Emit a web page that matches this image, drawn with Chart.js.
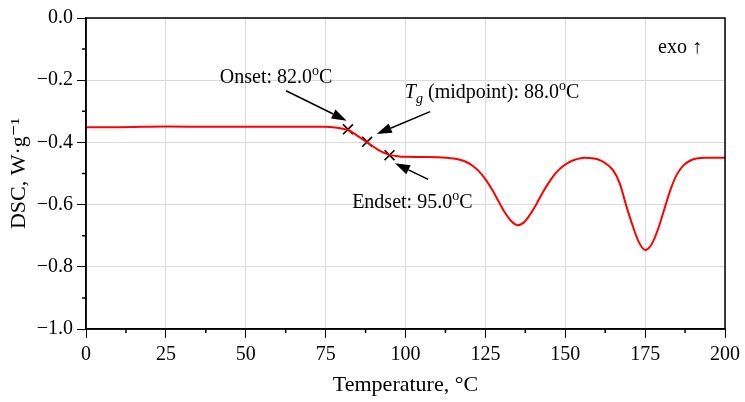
<!DOCTYPE html>
<html>
<head>
<meta charset="utf-8">
<script src="https://cdn.jsdelivr.net/npm/chart.js@4"></script>
<style>
html, body { margin: 0; padding: 0; background: #fff; }
</style>
</head>
<body>
<canvas id="myChart" width="745" height="402"></canvas>
<script>
// DSC curve
const temps = [0, 10, 25, 40, 55, 70, 75, 78, 80, 82, 84, 86, 88, 90, 92, 95, 98, 100, 105, 110,
    115, 117, 119, 121, 123, 125, 127, 129, 131, 133, 135, 137, 139, 141, 143, 145, 147, 149, 151, 153,
    156, 159, 161, 163, 165, 167, 169, 171, 173, 175, 177, 179, 181, 183, 185, 187, 189, 191, 194, 200];
const dsc = [-0.351, -0.351, -0.349, -0.350, -0.350, -0.350, -0.350, -0.352, -0.355, -0.360, -0.372, -0.386,
    -0.400, -0.414, -0.427, -0.440, -0.445, -0.446, -0.447, -0.448,
    -0.452, -0.456, -0.463, -0.475, -0.493, -0.518, -0.550, -0.587, -0.624, -0.652, -0.666, -0.658, -0.632,
    -0.598, -0.560, -0.527, -0.499, -0.479, -0.465, -0.456,
    -0.449, -0.452, -0.458, -0.470, -0.490, -0.530, -0.600, -0.665, -0.720, -0.746, -0.728, -0.680, -0.615,
    -0.550, -0.502, -0.474, -0.459, -0.452, -0.449, -0.449];

// onset / midpoint / endset markers
const markTemps = [82.0, 88.0, 95.0];
const markDsc = [-0.358, -0.398, -0.441];

const minorX = [12.5, 37.5, 62.5, 87.5, 112.5, 137.5, 162.5, 187.5];
const minorY = [-0.1, -0.3, -0.5, -0.7, -0.9];

const FONT = "'Liberation Serif', 'DejaVu Serif', serif";

// labels: segments of rich text, anchor in data units
const labels = [
    { x: 41.9, y: -0.209, parts: [{ t: 'Onset: 82.0' }, { t: 'o', sup: true }, { t: 'C' }] },
    { x: 99.8, y: -0.257, parts: [{ t: 'T', it: true }, { t: 'g', it: true, sub: true }, { t: ' (midpoint): 88.0' }, { t: 'o', sup: true }, { t: 'C' }] },
    { x: 83.3, y: -0.611, parts: [{ t: 'Endset: 95.0' }, { t: 'o', sup: true }, { t: 'C' }] }
];
const arrows = [
    { x1: 62.6, y1: -0.234, x2: 81.6, y2: -0.330 },
    { x1: 107.7, y1: -0.301, x2: 91.0, y2: -0.373 },
    { x1: 107.1, y1: -0.519, x2: 96.7, y2: -0.467 }
];

const drawRich = (c, parts, x, y) => {
    let cx = x;
    parts.forEach(p => {
        const size = (p.sup || p.sub) ? 14 : 20;
        c.font = (p.it ? 'italic ' : '') + size + 'px ' + FONT;
        const dy = p.sup ? -8 : (p.sub ? 5 : 0);
        c.fillText(p.t, cx, y + dy);
        cx += c.measureText(p.t).width;
    });
};

const extras = {
    id: 'extras',
    afterDatasetsDraw(chart) {
        const c = chart.ctx;
        const xs = chart.scales.x, ys = chart.scales.y;
        c.save();
        c.fillStyle = '#000';
        c.strokeStyle = '#000';
        c.textBaseline = 'alphabetic';
        c.textAlign = 'left';
        labels.forEach(l => drawRich(c, l.parts, xs.getPixelForValue(l.x), ys.getPixelForValue(l.y)));

        arrows.forEach(a => {
            const x1 = xs.getPixelForValue(a.x1), y1 = ys.getPixelForValue(a.y1);
            const x2 = xs.getPixelForValue(a.x2), y2 = ys.getPixelForValue(a.y2);
            const ang = Math.atan2(y2 - y1, x2 - x1);
            const hl = 15, hw = 5;
            const bx = x2 - hl * Math.cos(ang), by = y2 - hl * Math.sin(ang);
            c.lineWidth = 1.5;
            c.beginPath();
            c.moveTo(x1, y1);
            c.lineTo(bx, by);
            c.stroke();
            c.beginPath();
            c.moveTo(x2, y2);
            c.lineTo(bx + hw * Math.sin(ang), by - hw * Math.cos(ang));
            c.lineTo(bx - hw * Math.sin(ang), by + hw * Math.cos(ang));
            c.closePath();
            c.fill();
        });

        // exo marker
        c.font = '20px ' + FONT;
        c.textAlign = 'right';
        c.fillText('exo \u2191', xs.getPixelForValue(192.8), ys.getPixelForValue(-0.113));
        c.restore();
    },
    afterDraw(chart) {
        const c = chart.ctx;
        const a = chart.chartArea;
        const xs = chart.scales.x, ys = chart.scales.y;
        c.save();
        c.strokeStyle = '#000';
        c.lineWidth = 1.5;
        c.strokeRect(a.left, a.top, a.right - a.left, a.bottom - a.top);
        c.beginPath();
        minorX.forEach(v => {
            const px = xs.getPixelForValue(v);
            c.moveTo(px, a.bottom);
            c.lineTo(px, a.bottom + 4);
        });
        minorY.forEach(v => {
            const py = ys.getPixelForValue(v);
            c.moveTo(a.left, py);
            c.lineTo(a.left - 4, py);
        });
        c.stroke();
        c.restore();
    }
};

const ctx = document.getElementById('myChart').getContext('2d');
const chart = new Chart(ctx, {
    type: 'line',
    data: {
        datasets: [{
            data: temps.map((t, i) => ({ x: t, y: dsc[i] })),
            borderColor: '#ff0000',
            borderWidth: 2,
            pointRadius: 0,
            cubicInterpolationMode: 'monotone'
        }, {
            type: 'scatter',
            data: markTemps.map((t, i) => ({ x: t, y: markDsc[i] })),
            pointStyle: 'crossRot',
            pointRadius: 7,
            borderColor: '#000',
            borderWidth: 1.6,
            showLine: false
        }]
    },
    options: {
        responsive: false,
        animation: false,
        layout: { padding: { top: 18, right: 20, left: 0, bottom: 0 } },
        plugins: { legend: { display: false }, tooltip: { enabled: false } },
        scales: {
            x: {
                type: 'linear',
                min: 0,
                max: 200,
                afterFit: s => { s.height = 73; },
                ticks: {
                    stepSize: 25,
                    padding: 5,
                    color: '#000',
                    maxRotation: 0,
                    font: { family: FONT, size: 20 }
                },
                grid: { color: '#dadada', tickColor: '#000', tickLength: 9 },
                border: { color: '#000', width: 1.5 },
                title: {
                    display: true,
                    text: 'Temperature, \u00b0C',
                    color: '#000',
                    font: { family: FONT, size: 22 },
                    padding: { top: 0, bottom: 4 }
                }
            },
            y: {
                min: -1.0,
                max: 0.0,
                afterFit: s => { s.width = 86; },
                ticks: {
                    stepSize: 0.2,
                    padding: 4,
                    color: '#000',
                    font: { family: FONT, size: 20 },
                    callback: v => v.toFixed(1).replace('-', '\u2212')
                },
                grid: { color: '#dadada', tickColor: '#000', tickLength: 9 },
                border: { color: '#000', width: 1.5 },
                title: {
                    display: true,
                    text: 'DSC, W\u00b7g\u207b\u00b9',
                    color: '#000',
                    font: { family: FONT, size: 22 },
                    padding: { top: 6, bottom: 0 }
                }
            }
        }
    },
    plugins: [extras]
});
</script>
</body>
</html>
